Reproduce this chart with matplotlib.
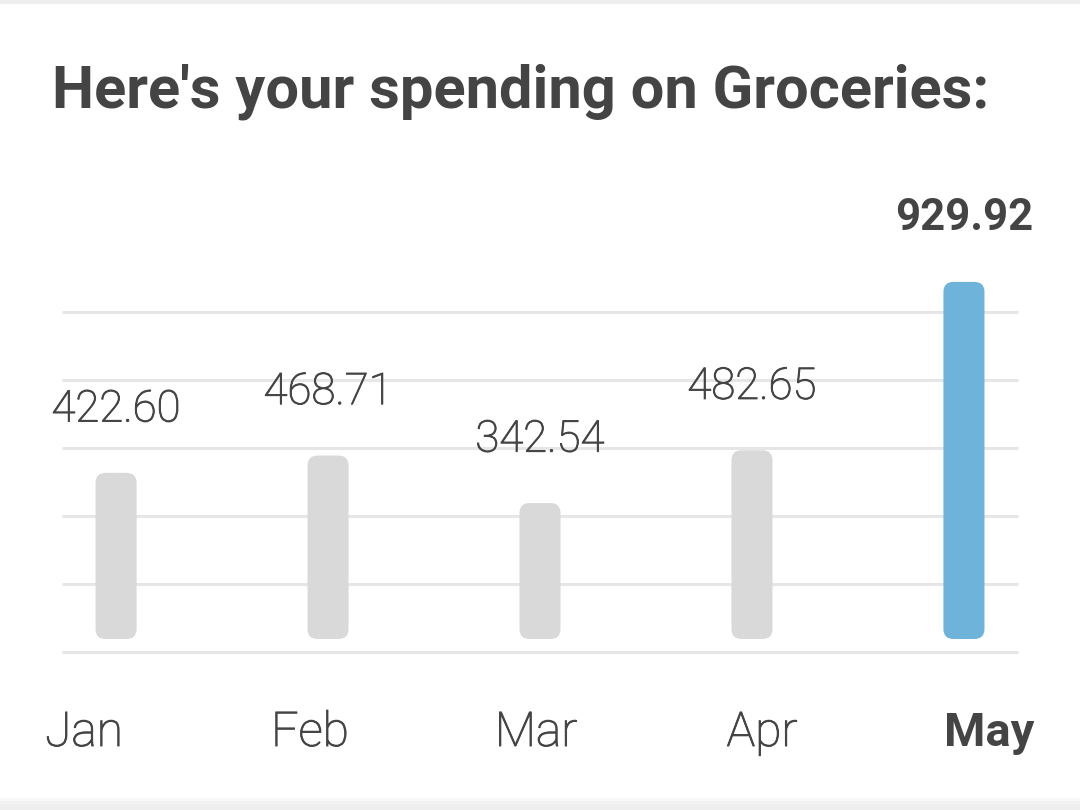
import matplotlib
matplotlib.use("Agg")
import matplotlib.pyplot as plt
from matplotlib.patches import FancyBboxPatch, Rectangle
import matplotlib.patheffects as pe

months = ["Jan", "Feb", "Mar", "Apr", "May"]
values = [422.60, 468.71, 342.54, 482.65, 929.92]
labels = ["422.60", "468.71", "342.54", "482.65", "929.92"]
highlight = 4
title = "Here's your spending on Groceries:"

TEXT = "#444444"
GRAY = "#d9d9d9"
BLUE = "#6eb3d9"
GRID = "#e6e6e6"

W, H = 1080, 810
fig = plt.figure(figsize=(W / 100, H / 100), dpi=100)
fig.patch.set_facecolor("white")

thick = [pe.withStroke(linewidth=0.7, foreground=TEXT)]

# card borders
bg = fig.add_axes([0, 0, 1, 1])
bg.set_xlim(0, W)
bg.set_ylim(H, 0)
bg.axis("off")
bg.add_patch(Rectangle((0, 0), W, 4, color="#eeeeee", lw=0))
for i, c in enumerate(["#f7f7f7", "#f2f2f2", "#efefef", "#eeeeee"]):
    bg.add_patch(Rectangle((0, 798 + i * 3), W, 3, color=c, lw=0))

fig.text(52 / W, 1 - 107 / H, title, fontsize=42.9, fontweight="bold",
         family="Roboto", color=TEXT, ha="left", va="baseline")

# chart axes: gridline span
left_px, right_px, top_px, bot_px = 62, 1018, 312, 652
ax = fig.add_axes([left_px / W, 1 - bot_px / H, (right_px - left_px) / W,
                   (bot_px - top_px) / H])
ax.axis("off")
px_per_x = 211.75
px_per_y = 0.3765
zero_px = 632
xpad = (116 - left_px) / px_per_x
ax.set_xlim(-xpad, len(values) - 1 + xpad)
ax.set_ylim(-(bot_px - zero_px) / px_per_y, (zero_px - top_px) / px_per_y)

for f in [0, 0.2, 0.4, 0.6, 0.8, 1.0]:
    ax.plot([0, 1], [f, f], transform=ax.transAxes, color=GRID, lw=2.2,
            solid_capstyle="butt", zorder=1, clip_on=False)

bar_w = 41 / px_per_x
base = -7 / px_per_y
rad = 10 / px_per_x
aspect = (1 / px_per_y) / (1 / px_per_x)
for i, v in enumerate(values):
    col = BLUE if i == highlight else GRAY
    p = FancyBboxPatch((i - bar_w / 2, base), bar_w, v - base,
                       boxstyle=f"round,pad=0,rounding_size={rad}",
                       mutation_aspect=aspect, fc=col, ec="none",
                       clip_on=False, zorder=2)
    ax.add_patch(p)
    hi = i == highlight
    ax.annotate(labels[i], (i, v), xytext=(0, 37), textcoords="offset points",
                ha="center", va="baseline", fontsize=31.5,
                family="Roboto", fontweight="bold" if hi else "light",
                color=TEXT, annotation_clip=False,
                path_effects=None if hi else thick)

# month labels (evenly distributed)
for i, m in enumerate(months):
    hi = i == highlight
    x = (84 + 226 * i) / W
    fig.text(x + (0.001 if hi else 0), 1 - 746 / H, m,
             fontsize=34.5 if not hi else 34.0,
             family="Roboto", fontweight="bold" if hi else "light",
             color=TEXT, ha="center", va="baseline",
             path_effects=None if hi else thick)

fig.savefig("out.png", dpi=100, facecolor="white")
